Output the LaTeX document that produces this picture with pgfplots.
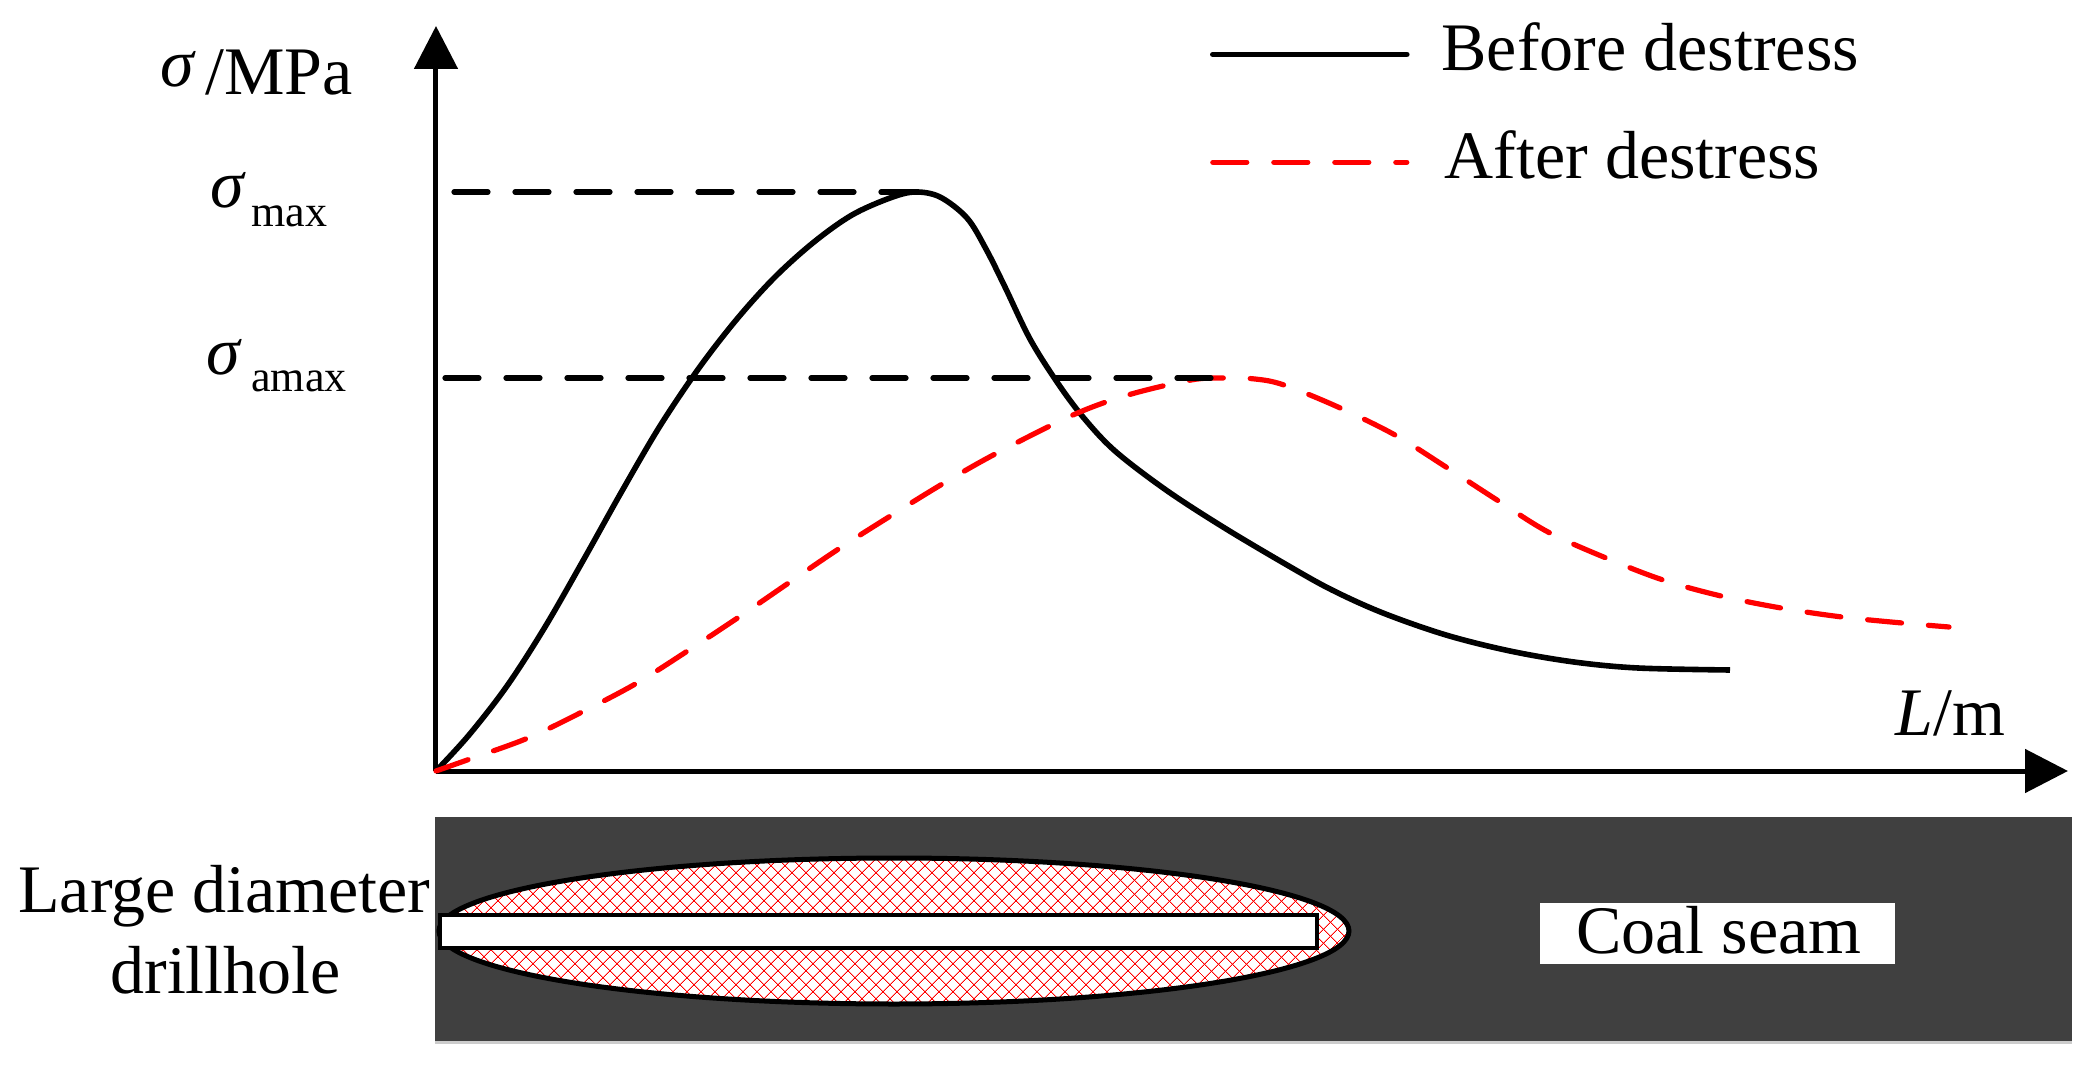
\documentclass[border=0pt]{standalone}
\usepackage{fontspec}
\setmainfont{Liberation Serif}
\usepackage{pgfplots}
\pgfplotsset{compat=1.18}
\usetikzlibrary{arrows.meta,patterns.meta}
\definecolor{seam}{HTML}{404040}
\newcommand{\bigf}{\fontsize{34bp}{40bp}\selectfont}
\newcommand{\subf}{\fontsize{22bp}{26bp}\selectfont}
\pgfplotstableread{
x y
0 0
33 36
71 85
109 144
148 212
186 280
224 345
263 403
301 452
339 494
378 529
416 556
454 573
479 579
504 574
531 553
550 522
569 484
594 432
621 389
647 354
679 320
730 281
787 244
851 206
896 181
947 158
1010 136
1074 120
1138 109
1202 103
1294 101
}\before
\pgfplotstableread{
x y
0 0
34 12
92 33
148 60
201 88
253 121
303 154
354 189
404 223
456 256
508 288
561 318
637 356
692 376
755 391
787 393
819 392
848 386
902 364
959 336
1010 304
1061 271
1112 239
1170 213
1227 191
1285 175
1345 163
1406 154
1466 148
1513 144
}\after
\begin{document}
\begin{tikzpicture}
\begin{axis}[
  scale only axis,
  width=816bp, height=372.5bp,
  xmin=0, xmax=1632, ymin=0, ymax=745,
  axis lines=left,
  axis line style={line width=2.5bp,-{Triangle[length=21.5bp,width=21.5bp]}},
  xtick=\empty, ytick=\empty,
  clip=false,
  legend cell align=left,
  legend style={draw=none, fill=none, inner sep=0pt, outer sep=0pt,
    at={(axis cs:774,752)}, anchor=north west, font=\bigf,
    row sep=24.5bp, /tikz/every even column/.append style={column sep=0bp}},
  legend image code/.code={\draw[#1,yshift=-3bp,line cap=round] (0bp,0bp) -- (97bp,0bp); \path (111bp,0bp);},
]
% coal seam panel
\fill[black!20] (axis cs:-1,-273) rectangle (axis cs:1636,-46);
\fill[seam] (axis cs:-1,-270) rectangle (axis cs:1636,-46);
\fill[white] (axis cs:458,-160) ellipse [x radius=227.5bp, y radius=36.5bp];
\path[pattern={Lines[angle=45,distance=5.2bp,line width=0.55bp]},pattern color=red] (axis cs:458,-160) ellipse [x radius=227.5bp, y radius=36.5bp];
\path[pattern={Lines[angle=-45,distance=5.2bp,line width=0.55bp]},pattern color=red] (axis cs:458,-160) ellipse [x radius=227.5bp, y radius=36.5bp];
\draw[black,line width=2.5bp] (axis cs:458,-160) ellipse [x radius=227.5bp, y radius=36.5bp];
\draw[black,fill=white,line width=2.4bp] (axis cs:4,-144) rectangle (axis cs:881,-177);
\fill[white] (axis cs:1104,-132) rectangle (axis cs:1459,-193);
\node[anchor=base,inner sep=0pt,font=\bigf] at (axis cs:1283,-182) {Coal seam};
\node[anchor=base west,inner sep=0pt,font=\bigf] at (axis cs:-418,-141) {Large diameter};
\node[anchor=base west,inner sep=0pt,font=\bigf] at (axis cs:-326,-222) {drillhole};
% curves
\addplot[black,line width=2.8bp,smooth,tension=0.55] table[x=x,y=y] {\before};
\addlegendentry{Before destress}
\addplot[red,line width=2.6bp,line cap=round,smooth,tension=0.55,dash pattern=on 17bp off 13.5bp] table[x=x,y=y] {\after};
\addlegendentry{\hspace{1.5bp}After destress}
\addplot[black,line width=2.6bp,line cap=round,dash pattern=on 17bp off 13.5bp,forget plot] coordinates {(18,579) (481,579)};
\addplot[black,line width=2.6bp,line cap=round,dash pattern=on 17bp off 13.5bp,forget plot] coordinates {(9,393) (778,393)};
% labels
\node[anchor=base west,inner sep=0pt,font=\bigf\itshape] at (axis cs:-276,684) {σ};
\node[anchor=base west,inner sep=0pt,font=\bigf] at (axis cs:-231,676) {/MPa};
\node[anchor=base west,inner sep=0pt,font=\bigf\itshape] at (axis cs:-226,563) {σ};
\node[anchor=base west,inner sep=0pt,font=\subf] at (axis cs:-185,544) {max};
\node[anchor=base west,inner sep=0pt,font=\bigf\itshape] at (axis cs:-230,396) {σ};
\node[anchor=base west,inner sep=0pt,font=\subf] at (axis cs:-185,379) {amax};
\node[anchor=base west,inner sep=0pt,font=\bigf] at (axis cs:1459,36) {\textit{L}/m};
\path (axis cs:-436,-299) rectangle (axis cs:1649,771);
\end{axis}
\end{tikzpicture}
\end{document}
